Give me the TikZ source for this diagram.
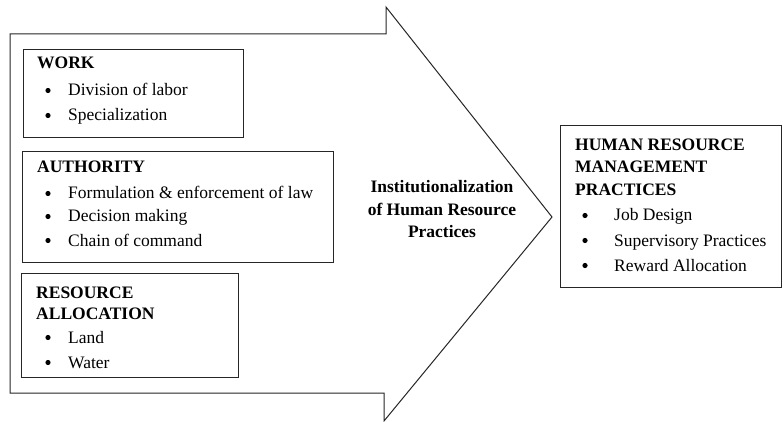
\documentclass[tikz,border=0pt]{standalone}
\usepackage{fontspec}
\setmainfont{Liberation Serif}
\begin{document}
\begin{tikzpicture}[x=1pt,y=-1pt,
  box/.style={draw=black!85, line width=1pt, inner sep=0pt, anchor=north west},
  txt/.style={anchor=base west, inner sep=0pt, font=\fontsize{17.5}{23.5}\selectfont},
  hdr/.style={txt, font=\fontsize{17.5}{23.5}\selectfont\bfseries},
  bul/.style={circle, fill=black, inner sep=0pt, minimum size=5.2pt},
  ctr/.style={anchor=base, inner sep=0pt, font=\fontsize{17.5}{23.5}\selectfont\bfseries}]
\useasboundingbox (0,0) rectangle (784,422);
\fill[white] (0,0) rectangle (784,422);
% big arrow
\draw[black!85, line width=1pt, line join=miter]
  (10,34) -- (386,34) -- (386,7) -- (552,217) -- (384,421) -- (384,393) -- (10,393) -- cycle;
% WORK
\node[box, minimum width=220pt, minimum height=88pt] (work) at (23,49) {};
\node[hdr] (w0) at (37,69) {WORK};
\node[bul] (wb1) at (48,90.5) {};
\node[txt] (w1) at (68,96) {Division of labor};
\node[bul] (wb2) at (48,115.5) {};
\node[txt] (w2) at (68,121) {Specialization};
% AUTHORITY
\node[box, minimum width=311pt, minimum height=111pt] (auth) at (22,151) {};
\node[hdr] (a0) at (37,173) {AUTHORITY};
\node[bul] (ab1) at (48,193.5) {};
\node[txt] (a1) at (68,199) {Formulation \& enforcement of law};
\node[bul] (ab2) at (48,216.5) {};
\node[txt] (a2) at (68,222) {Decision making};
\node[bul] (ab3) at (48,240.5) {};
\node[txt] (a3) at (68,246) {Chain of command};
% RESOURCE ALLOCATION
\node[box, minimum width=217pt, minimum height=104pt] (res) at (21,273) {};
\node[hdr] (r0) at (36,298) {RESOURCE};
\node[hdr] (r0b) at (36,319) {ALLOCATION};
\node[bul] (rb1) at (48,337.5) {};
\node[txt] (r1) at (68,343) {Land};
\node[bul] (rb2) at (48,362.5) {};
\node[txt] (r2) at (68,368) {Water};
% centre text
\node[ctr] (c1) at (442,193) {Institutionalization};
\node[ctr] (c2) at (442,215) {of Human Resource};
\node[ctr] (c3) at (442,237) {Practices};
% HRM box
\node[box, minimum width=221pt, minimum height=162pt] (hrm) at (560,125) {};
\node[hdr] (h0) at (575,151) {HUMAN RESOURCE};
\node[hdr] (h0b) at (575,173) {MANAGEMENT};
\node[hdr] (h0c) at (575,196) {PRACTICES};
\node[bul] (hb1) at (585,215.5) {};
\node[txt] (h1) at (614,221) {Job Design};
\node[bul] (hb2) at (585,240.5) {};
\node[txt] (h2) at (614,246) {Supervisory Practices};
\node[bul] (hb3) at (585,265.5) {};
\node[txt] (h3) at (614,271) {Reward Allocation};
\end{tikzpicture}
\end{document}
